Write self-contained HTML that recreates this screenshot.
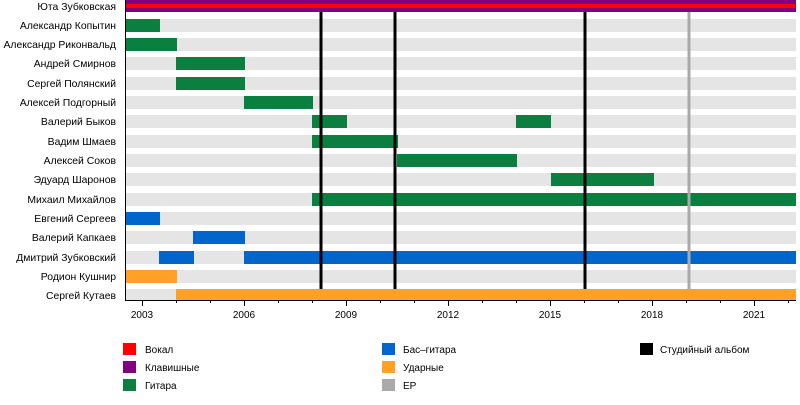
<!DOCTYPE html>
<html><head><meta charset="utf-8"><style>
body{margin:0;background:#fff;width:800px;height:400px;overflow:hidden}
svg text{font-family:"Liberation Sans",sans-serif;font-size:10px;fill:#000}
svg g.names text{font-size:10.4px}
</style></head><body>
<svg width="800" height="400" xmlns="http://www.w3.org/2000/svg">
<g id="bg" fill="#e5e5e5">
<rect x="126" y="19" width="670" height="13"/>
<rect x="126" y="38" width="670" height="13"/>
<rect x="126" y="57" width="670" height="13"/>
<rect x="126" y="77" width="670" height="13"/>
<rect x="126" y="96" width="670" height="13"/>
<rect x="126" y="115" width="670" height="13"/>
<rect x="126" y="135" width="670" height="13"/>
<rect x="126" y="154" width="670" height="13"/>
<rect x="126" y="173" width="670" height="13"/>
<rect x="126" y="193" width="670" height="13"/>
<rect x="126" y="212" width="670" height="13"/>
<rect x="126" y="231" width="670" height="13"/>
<rect x="126" y="251" width="670" height="13"/>
<rect x="126" y="270" width="670" height="13"/>
<rect x="126" y="289" width="670" height="11"/>
</g>
<rect x="126" y="0" width="670" height="12" fill="#800080"/>
<rect x="126" y="4" width="670" height="4" fill="#ff0000"/>
<g fill="#0a7f3f">
<rect x="126" y="19" width="34" height="13"/>
<rect x="126" y="38" width="51" height="13"/>
<rect x="176" y="57" width="69" height="13"/>
<rect x="176" y="77" width="69" height="13"/>
<rect x="244" y="96" width="69" height="13"/>
<rect x="312" y="115" width="35" height="13"/>
<rect x="516" y="115" width="35" height="13"/>
<rect x="312" y="135" width="86" height="13"/>
<rect x="397" y="154" width="120" height="13"/>
<rect x="551" y="173" width="103" height="13"/>
<rect x="312" y="193" width="484" height="13"/>
</g>
<g fill="#0066cc">
<rect x="126" y="212" width="34" height="13"/>
<rect x="193" y="231" width="52" height="13"/>
<rect x="159" y="251" width="35" height="13"/>
<rect x="244" y="251" width="552" height="13"/>
</g>
<g fill="#ffa126">
<rect x="126" y="270" width="51" height="13"/>
<rect x="176" y="289" width="620" height="11"/>
</g>
<g stroke="#000" stroke-width="3">
<line x1="321" y1="12" x2="321" y2="289"/>
<line x1="395" y1="12" x2="395" y2="289"/>
<line x1="585" y1="12" x2="585" y2="289"/>
</g>
<line x1="689" y1="12" x2="689" y2="289" stroke="#aaa" stroke-width="3"/>
<g stroke="#000" stroke-width="1">
<line x1="125.5" y1="0" x2="125.5" y2="300.5"/>
<line x1="125" y1="300.5" x2="796" y2="300.5"/>
<line x1="142.5" y1="300" x2="142.5" y2="306"/>
<line x1="176.5" y1="300" x2="176.5" y2="303"/>
<line x1="210.5" y1="300" x2="210.5" y2="303"/>
<line x1="244.5" y1="300" x2="244.5" y2="306"/>
<line x1="278.5" y1="300" x2="278.5" y2="303"/>
<line x1="312.5" y1="300" x2="312.5" y2="303"/>
<line x1="346.5" y1="300" x2="346.5" y2="306"/>
<line x1="380.5" y1="300" x2="380.5" y2="303"/>
<line x1="414.5" y1="300" x2="414.5" y2="303"/>
<line x1="448.5" y1="300" x2="448.5" y2="306"/>
<line x1="482.5" y1="300" x2="482.5" y2="303"/>
<line x1="516.5" y1="300" x2="516.5" y2="303"/>
<line x1="550.5" y1="300" x2="550.5" y2="306"/>
<line x1="584.5" y1="300" x2="584.5" y2="303"/>
<line x1="618.5" y1="300" x2="618.5" y2="303"/>
<line x1="652.5" y1="300" x2="652.5" y2="306"/>
<line x1="686.5" y1="300" x2="686.5" y2="303"/>
<line x1="720.5" y1="300" x2="720.5" y2="303"/>
<line x1="754.5" y1="300" x2="754.5" y2="306"/>
<line x1="788.5" y1="300" x2="788.5" y2="303"/>
</g>
<g text-anchor="middle">
<text x="142" y="318">2003</text><text x="244" y="318">2006</text><text x="346" y="318">2009</text>
<text x="448" y="318">2012</text><text x="550" y="318">2015</text><text x="652" y="318">2018</text><text x="754" y="318">2021</text>
</g>
<g text-anchor="end" class="names">
<text x="116" y="10">Юта Зубковская</text>
<text x="116" y="29">Александр Копытин</text>
<text x="116" y="48">Александр Риконвальд</text>
<text x="116" y="67">Андрей Смирнов</text>
<text x="116" y="87">Сергей Полянский</text>
<text x="116" y="106">Алексей Подгорный</text>
<text x="116" y="125">Валерий Быков</text>
<text x="116" y="145">Вадим Шмаев</text>
<text x="116" y="164">Алексей Соков</text>
<text x="116" y="183">Эдуард Шаронов</text>
<text x="116" y="203">Михаил Михайлов</text>
<text x="116" y="222">Евгений Сергеев</text>
<text x="116" y="241">Валерий Капкаев</text>
<text x="116" y="261">Дмитрий Зубковский</text>
<text x="116" y="280">Родион Кушнир</text>
<text x="116" y="299">Сергей Кутаев</text>
</g>
<rect x="123" y="343" width="13" height="12" fill="#ff0000"/><text x="145" y="353">Вокал</text>
<rect x="123" y="361" width="13" height="12" fill="#800080"/><text x="145" y="371">Клавишные</text>
<rect x="123" y="379" width="13" height="12" fill="#0a7f3f"/><text x="145" y="389">Гитара</text>
<rect x="382" y="343" width="13" height="12" fill="#0066cc"/><text x="403" y="353">Бас–гитара</text>
<rect x="382" y="361" width="13" height="12" fill="#ffa126"/><text x="403" y="371">Ударные</text>
<rect x="382" y="379" width="13" height="12" fill="#aaaaaa"/><text x="403" y="389">EP</text>
<rect x="640" y="343" width="13" height="12" fill="#000"/><text x="660" y="353">Студийный альбом</text>
</svg>
</body></html>
